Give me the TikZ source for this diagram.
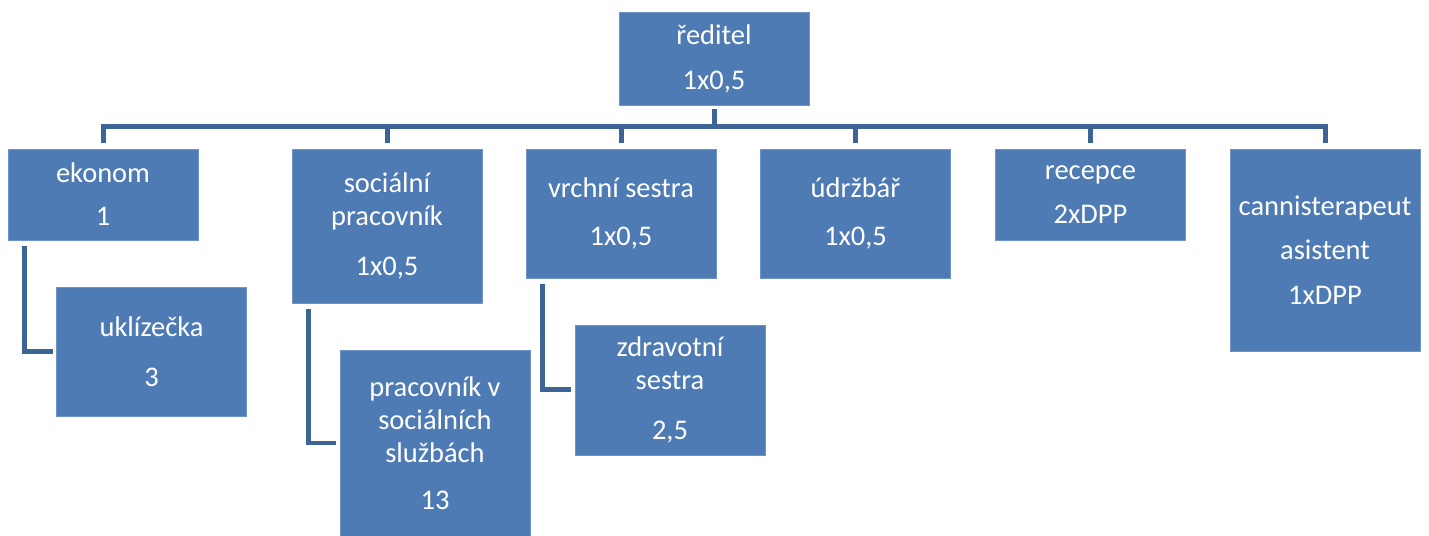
\documentclass[tikz,border=0pt]{standalone}
\usepackage{fontspec}
\setmainfont{Carlito}
\usepackage{tikz}
\usetikzlibrary{calc}
\definecolor{boxblue}{HTML}{4E7BB4}
\definecolor{boxedge}{HTML}{6F95C6}
\definecolor{linkblue}{HTML}{3C6596}
\tikzset{
    every node/.style={rectangle, fill=boxblue, draw=boxedge, line width=.3pt,
    	text=white, align=center, minimum width=3.8cm, inner sep=0pt,
    	font=\fontsize{16.2}{18.8}\selectfont}
}
\tikzset{link/.style={draw=linkblue, line width=.1cm}}
\tikzset{down/.style={link, shorten <=.08cm, shorten >=.12cm}}
\tikzset{side/.style={link, shorten <=.12cm, shorten >=.07cm}}

\begin{document}
\begin{tikzpicture}[x=0.02cm, y=-0.02cm]
  \useasboundingbox (0,0) rectangle (1429,536);

  \node (dir) [minimum height=1.86cm] at (714, 58.5) {ředitel\\[.24cm]1x0,5};

  \node (ekon) [minimum height=1.82cm] at (103, 194.5) {ekonom\\[.2cm]1};
  \node (socp) [minimum height=3.08cm] at (387, 226) {sociální\\pracovník\\[.34cm]1x0,5};
  \node (vrs) [minimum height=2.58cm] at (621, 213.5) {vrchní sestra\\[.3cm]1x0,5};
  \node (udr) [minimum height=2.58cm] at (855.5, 213.5) {údržbář\\[.3cm]1x0,5};
  \node (rec) [minimum height=1.82cm] at (1090.5, 194.5) {recepce\\[.22cm]2xDPP};
  \node (can) [minimum height=4.04cm] at (1325, 250) {cannisterapeut\\[.22cm]asistent\\[.24cm]1xDPP};

  \node (ukl) [minimum height=2.58cm] at (151.5, 351.5) {uklízečka\\[.34cm]3};
  \node (pss) [minimum height=3.72cm] at (435, 443) {pracovník v\\sociálních\\službách\\[.28cm]13};
  \node (zdr) [minimum height=2.6cm] at (670, 390) {zdravotní\\sestra\\[.34cm]2,5};

  \draw [down] (dir.south) -- ++(0,21.5) -| (ekon.north);
  \draw [down] (dir.south) -- ++(0,21.5) -| (socp.north);
  \draw [down] (dir.south) -- ++(0,21.5) -| (vrs.north);
  \draw [down] (dir.south) -- ++(0,21.5) -| (udr.north);
  \draw [down] (dir.south) -- ++(0,21.5) -| (rec.north);
  \draw [down] (dir.south) -- ++(0,21.5) -| (can.north);

  \draw [side] ($(ekon.south west)+(17,0)$) |- (ukl.west);
  \draw [side] ($(socp.south west)+(17,0)$) |- (pss.west);
  \draw [side] ($(vrs.south west)+(17,0)$) |- (zdr.west);
\end{tikzpicture}
\end{document}
